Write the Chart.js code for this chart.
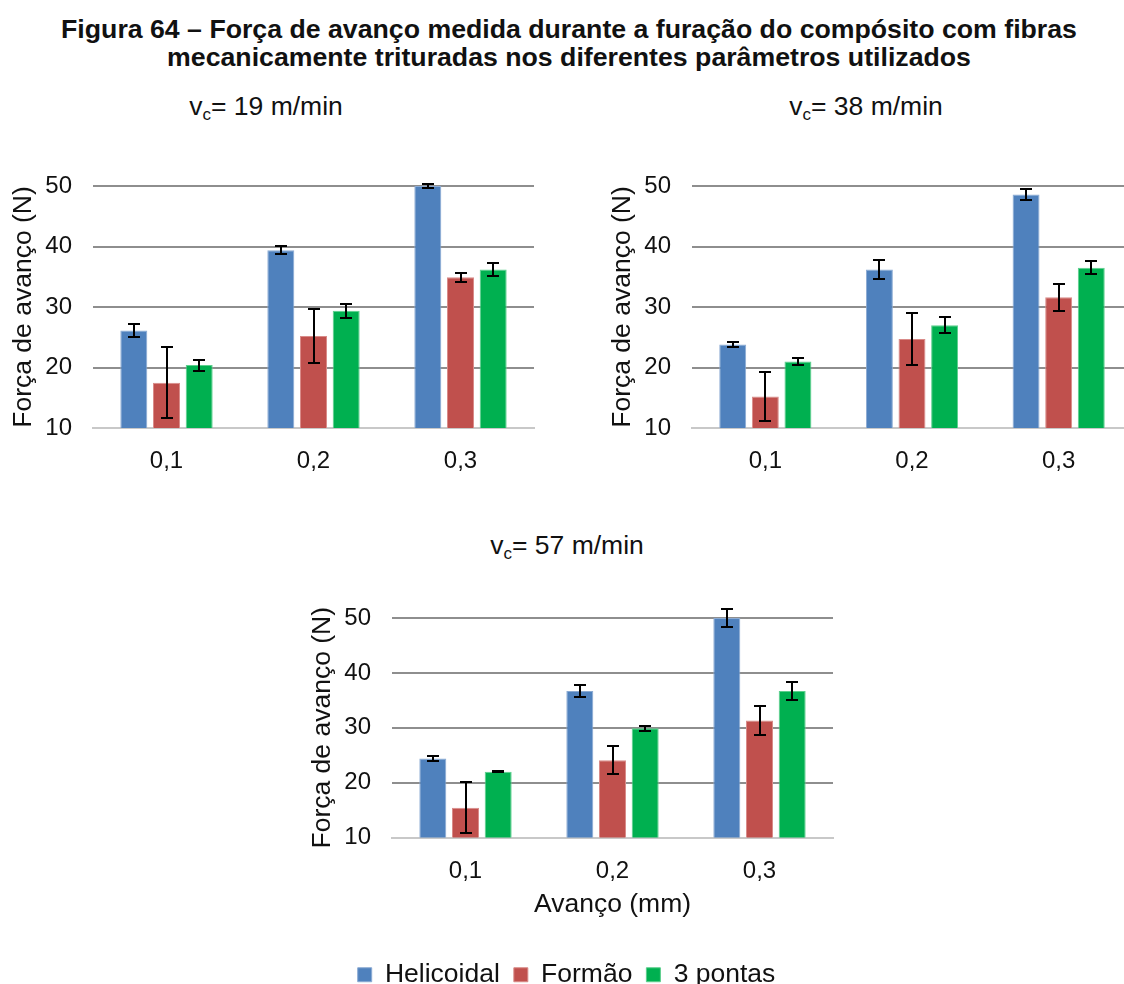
<!DOCTYPE html>
<html>
<head>
<meta charset="utf-8">
<script src="https://cdn.jsdelivr.net/npm/chart.js@4/dist/chart.umd.min.js"></script>
<style>
  html, body { margin: 0; padding: 0; background: #fff; width: 1124px; height: 984px; overflow: hidden; position: relative; }
  body { font-family: 'Liberation Sans', Arial, sans-serif; color: #111; }
  .fig-title { position: absolute; left: 0; top: 15px; width: 1138px; text-align: center; font-weight: bold; font-size: 26.7px; line-height: 28px; }
  .sub { position: absolute; width: 400px; text-align: center; font-size: 26.5px; line-height: 30px; }
  .sub sub { font-size: 17px; vertical-align: -5px; line-height: 0; }
  canvas { position: absolute; }
</style>
</head>
<body>
<div class="fig-title">Figura 64 – Força de avanço medida durante a furação do compósito com fibras<br>mecanicamente trituradas nos diferentes parâmetros utilizados</div>
<div class="sub" style="left:66px; top:91px;">v<sub>c</sub>= 19 m/min</div>
<div class="sub" style="left:666px; top:91px;">v<sub>c</sub>= 38 m/min</div>
<div class="sub" style="left:367px; top:530px;">v<sub>c</sub>= 57 m/min</div>

<canvas id="c19" width="540" height="330" style="left:0px; top:160px;"></canvas>
<canvas id="c38" width="540" height="330" style="left:600px; top:160px;"></canvas>
<canvas id="c57" width="560" height="408" style="left:300px; top:590px;"></canvas>

<script>
// Feed values (mm) on the category axis
const feeds = ['0,1', '0,2', '0,3'];
const toolNames = ['Helicoidal', 'Formão', '3 pontas'];
const yTicks = [10, 20, 30, 40, 50];

// Thrust force (N), cutting speed 19 m/min
const heli19 = [26.1, 39.4, 50.0];
const heli19Err = [1.1, 0.7, 0.4];
const form19 = [17.5, 25.2, 34.9];
const form19Err = [5.9, 4.4, 0.8];
const tres19 = [20.4, 29.4, 36.2];
const tres19Err = [0.9, 1.15, 1.0];

// Thrust force (N), cutting speed 38 m/min
const heli38 = [23.8, 36.2, 48.6];
const heli38Err = [0.35, 1.6, 0.9];
const form38 = [15.2, 24.7, 31.6];
const form38Err = [4.1, 4.35, 2.2];
const tres38 = [21.0, 27.0, 36.5];
const tres38Err = [0.6, 1.35, 1.05];

// Thrust force (N), cutting speed 57 m/min
const heli57 = [24.4, 36.7, 50.0];
const heli57Err = [0.45, 1.05, 1.7];
const form57 = [15.4, 24.1, 31.3];
const form57Err = [4.65, 2.6, 2.6];
const tres57 = [22.0, 29.9, 36.7];
const tres57Err = [0.05, 0.5, 1.65];

const FONT = "'Liberation Sans', Arial, sans-serif";
const fills = ['#4F81BD', '#C0504D', '#00B050'];
const edges = ['#8aaad3', '#d98b89', '#5ccf8d'];

// Draws standard-deviation whiskers on every bar
const errorBars = {
  id: 'errorBars',
  afterDatasetsDraw(chart) {
    const ctx = chart.ctx;
    const y = chart.scales.y;
    ctx.save();
    ctx.strokeStyle = '#000';
    ctx.lineWidth = 2;
    chart.data.datasets.forEach((ds, i) => {
      const meta = chart.getDatasetMeta(i);
      if (!chart.isDatasetVisible(i)) return;
      meta.data.forEach((bar, j) => {
        const v = ds.data[j], e = ds.errors[j];
        const yt = Math.round(y.getPixelForValue(v + e));
        const yb = Math.round(y.getPixelForValue(v - e));
        const x = Math.round(bar.x);
        ctx.beginPath();
        ctx.moveTo(x, yt); ctx.lineTo(x, yb);
        ctx.moveTo(x - 6, yt); ctx.lineTo(x + 6, yt);
        ctx.moveTo(x - 6, yb); ctx.lineTo(x + 6, yb);
        ctx.stroke();
      });
    });
    ctx.restore();
  }
};

function makeDatasets(series, errs) {
  return series.map((data, i) => ({
    label: toolNames[i],
    data: data,
    errors: errs[i],
    backgroundColor: fills[i],
    borderColor: edges[i],
    borderWidth: 1,
    categoryPercentage: 0.667,
    barPercentage: 0.826
  }));
}

function makeChart(id, series, errs, opts) {
  const withLegend = !!opts.legend;
  return new Chart(document.getElementById(id), {
    type: 'bar',
    data: { labels: feeds, datasets: makeDatasets(series, errs) },
    plugins: [errorBars],
    options: {
      responsive: false,
      animation: false,
      devicePixelRatio: 1,
      layout: { padding: opts.padding },
      plugins: {
        title: { display: false },
        tooltip: { enabled: false },
        legend: {
          display: withLegend,
          position: 'bottom',
          labels: {
            boxWidth: 14, boxHeight: 14, padding: 14,
            color: '#111',
            font: { family: FONT, size: 26.5 }
          }
        }
      },
      scales: {
        x: {
          grid: { display: false, drawTicks: false },
          border: { display: true, color: '#c8c8c8', width: 2 },
          ticks: { color: '#111', padding: 19, font: { family: FONT, size: 24 } },
          title: opts.xTitle ? {
            display: true, text: opts.xTitle, color: '#111',
            font: { family: FONT, size: 26.5 }, padding: { top: 0, bottom: 26.6 }
          } : { display: false },
          afterFit(scale) { scale.height = opts.xHeight; }
        },
        y: {
          min: 10, max: 50,
          afterBuildTicks(scale) { scale.ticks = yTicks.map(v => ({ value: v })); },
          grid: {
            drawTicks: true,
            tickLength: 21,
            tickColor: 'rgba(0,0,0,0)',
            lineWidth: 2,
            color: ctx => (ctx.tick && ctx.tick.value === 10 ? '#c8c8c8' : '#8e8e8e')
          },
          border: { display: false },
          ticks: { color: '#111', padding: 0, font: { family: FONT, size: 24 } },
          title: {
            display: true, text: 'Força de avanço (N)', color: '#111',
            font: { family: FONT, size: 26.5 }, padding: { top: 7, bottom: 0 }
          },
          afterFit(scale) { scale.width = 92; }
        }
      }
    }
  });
}

makeChart('c19', [heli19, form19, tres19], [heli19Err, form19Err, tres19Err],
  { padding: { top: 26, right: 6, left: 1, bottom: 0 }, xHeight: 62 });
makeChart('c38', [heli38, form38, tres38], [heli38Err, form38Err, tres38Err],
  { padding: { top: 26, right: 8, left: 0, bottom: 0 }, xHeight: 62 });
makeChart('c57', [heli57, form57, tres57], [heli57Err, form57Err, tres57Err],
  { padding: { top: 28, right: 27, left: 0, bottom: 0 }, xHeight: 110, xTitle: 'Avanço (mm)', legend: true });
</script>
</body>
</html>
